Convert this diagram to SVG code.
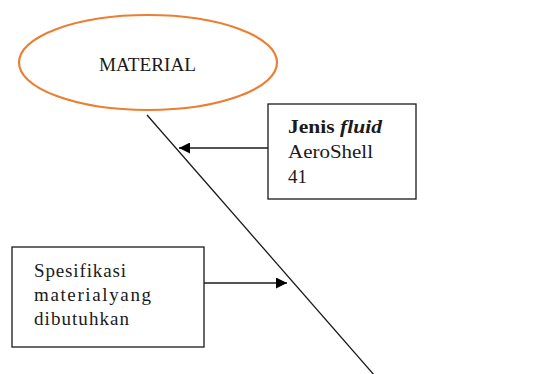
<svg xmlns="http://www.w3.org/2000/svg" width="556" height="374" viewBox="0 0 556 374">
  <style>
    .t { font-family: 'Liberation Serif', 'DejaVu Serif', serif; font-size: 19px; fill: #1a1a1a; }
    .box { fill: #ffffff; stroke: #1a1a1a; stroke-width: 1.3; }
    .line { stroke: #1a1a1a; stroke-width: 1.3; fill: none; }
  </style>
  <defs>
    <marker id="arrow" viewBox="0 0 10 10" refX="10" refY="5" markerWidth="11" markerHeight="11" markerUnits="userSpaceOnUse" orient="auto">
      <path d="M0,0 L10,5 L0,10 z" fill="#000000"/>
    </marker>
  </defs>
  <rect width="556" height="374" fill="#ffffff"/>

  <g id="connectors">
    <line class="line" x1="147" y1="115" x2="375" y2="376"/>
    <line class="line" x1="268" y1="148" x2="179" y2="148" marker-end="url(#arrow)"/>
    <line class="line" x1="204" y1="283" x2="287" y2="283" marker-end="url(#arrow)"/>
  </g>

  <g id="material">
    <ellipse cx="148" cy="62.5" rx="129" ry="47.5" fill="#ffffff" stroke="#ed7d31" stroke-width="2.2"/>
    <text class="t" x="99" y="71" textLength="97" lengthAdjust="spacingAndGlyphs">MATERIAL</text>
  </g>

  <g id="jenis-fluid">
    <rect class="box" x="268" y="104" width="148" height="95"/>
    <text class="t" x="288" y="133" font-weight="bold" textLength="94" lengthAdjust="spacingAndGlyphs">Jenis <tspan font-style="italic">fluid</tspan></text>
    <text class="t" x="288" y="158" textLength="85" lengthAdjust="spacingAndGlyphs">AeroShell</text>
    <text class="t" x="288" y="183">41</text>
  </g>

  <g id="spesifikasi">
    <rect class="box" x="12" y="247" width="192" height="100"/>
    <text class="t" x="34" y="277" textLength="92" lengthAdjust="spacing">Spesifikasi</text>
    <text class="t" x="34" y="301" textLength="117" lengthAdjust="spacing">materialyang</text>
    <text class="t" x="34" y="325" textLength="95" lengthAdjust="spacing">dibutuhkan</text>
  </g>
</svg>
